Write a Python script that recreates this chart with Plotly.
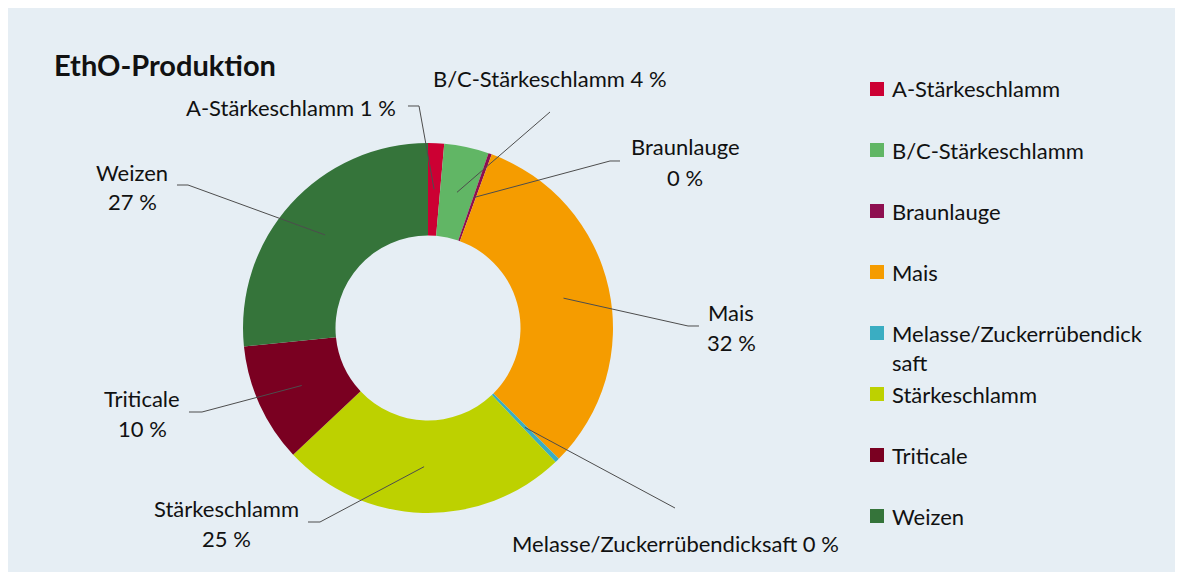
import math
import plotly.graph_objects as go

# ---------------- data ----------------
categories = ["A-Stärkeschlamm", "B/C-Stärkeschlamm", "Braunlauge", "Mais",
              "Melasse/Zuckerrübendicksaft", "Stärkeschlamm", "Triticale", "Weizen"]
values = [1.4, 3.9, 0.3, 31.9, 0.4, 25.1, 10.4, 26.6]
colors = ["#CC0033", "#61B665", "#8E0F50", "#F59C00",
          "#3AADC2", "#BDD100", "#7A0021", "#35743A"]
legend_labels = ["A-Stärkeschlamm", "B/C-Stärkeschlamm", "Braunlauge", "Mais",
                 "Melasse/Zuckerrübendick<br>saft", "Stärkeschlamm", "Triticale", "Weizen"]
title_text = "EthO-Produktion"

# ---------------- layout constants (pixels, page coordinates) ----------------
OFF = 8  # page body margin
FW, FH = 1200, 590  # figure size (extends to the window edges)
CX, CY, R = 428, 328, 185
HOLE = 0.5
FONT = "Lato"
FS = 22
TXT = "#111111"
LINE_COL = "#4d4d4d"
BG = "#E6EEF4"


def px(x):
    return (x - OFF) / FW


def py(y):
    return 1 - (y - OFF) / FH


# label placement: (mode, x, y, xanchor, leader path points before anchor)
label_layout = {
    0: dict(mode="one", x=398, y=107, xa="right", path=[(408, 106), (419, 106)]),
    1: dict(mode="one", x=550, y=78, xa="center", path=[(550, 112)]),
    2: dict(mode="two", x=685, y=147, xa="center", path=[(620, 161), (610, 161)]),
    3: dict(mode="two", x=731, y=312, xa="center", path=[(699, 326), (688, 326)]),
    4: dict(mode="one", x=675, y=543, xa="center", path=[(675, 508)]),
    5: dict(mode="two", x=226, y=508, xa="center", path=[(308, 522), (320, 522)]),
    6: dict(mode="two", x=142, y=398, xa="center", path=[(189, 412), (202, 412)]),
    7: dict(mode="two", x=132, y=172, xa="center", path=[(177, 185), (188, 185)]),
}

fig = go.Figure(go.Pie(
    labels=categories, values=values,
    marker=dict(colors=colors, line=dict(width=0)),
    hole=HOLE, sort=False, direction="clockwise", rotation=0,
    textinfo="none", showlegend=False, hoverinfo="label+percent",
    domain=dict(x=[px(CX - R), px(CX + R)], y=[py(CY + R), py(CY - R)]),
))

shapes = []
annotations = []

# title
annotations.append(dict(text="<b>" + title_text + "</b>", x=px(52), y=py(64), xref="paper", yref="paper",
                        xanchor="left", yanchor="middle", showarrow=False,
                        font=dict(family=FONT, size=29, color=TXT)))

# data labels with leader lines
total = sum(values)
cum = 0.0
r_mid = R * (1 + HOLE) / 2
for i, (cat, v) in enumerate(zip(categories, values)):
    mid = (cum + v / 2) / total * 2 * math.pi
    cum += v
    ax = CX + r_mid * math.sin(mid)
    ay = CY - r_mid * math.cos(mid)
    lay = label_layout[i]
    pct = f"{round(v / total * 100)} %"
    if lay["mode"] == "one":
        annotations.append(dict(text=f"{cat} {pct}", x=px(lay["x"]), y=py(lay["y"]),
                                xref="paper", yref="paper", xanchor=lay["xa"], yanchor="middle",
                                showarrow=False, font=dict(family=FONT, size=FS, color=TXT)))
    else:
        for k, t in enumerate([cat, pct]):
            annotations.append(dict(text=t, x=px(lay["x"]), y=py(lay["y"] + 30 * k),
                                    xref="paper", yref="paper", xanchor="center", yanchor="middle",
                                    showarrow=False, font=dict(family=FONT, size=FS, color=TXT)))
    pts = lay["path"] + [(ax, ay)]
    d = "M " + " L ".join(f"{px(x):.5f},{py(y):.5f}" for x, y in pts)
    shapes.append(dict(type="path", xref="paper", yref="paper", path=d,
                       line=dict(color=LINE_COL, width=1)))

# custom legend
for i, (lab, col) in enumerate(zip(legend_labels, colors)):
    yc = 89 + 61 * i
    shapes.append(dict(type="rect", xref="paper", yref="paper",
                       x0=px(870), x1=px(884), y0=py(yc + 7), y1=py(yc - 7),
                       fillcolor=col, line=dict(width=0)))
    for k, t in enumerate(lab.split("<br>")):
        annotations.append(dict(text=t, x=px(890), y=py(yc + 29 * k), xref="paper", yref="paper",
                                xanchor="left", yanchor="middle", showarrow=False,
                                font=dict(family=FONT, size=FS, color=TXT)))

fig.update_layout(
    width=FW, height=FH, margin=dict(l=0, r=0, t=0, b=0),
    paper_bgcolor=BG, plot_bgcolor=BG,
    shapes=shapes, annotations=annotations, showlegend=False,
)

fig.write_html("out.html")
